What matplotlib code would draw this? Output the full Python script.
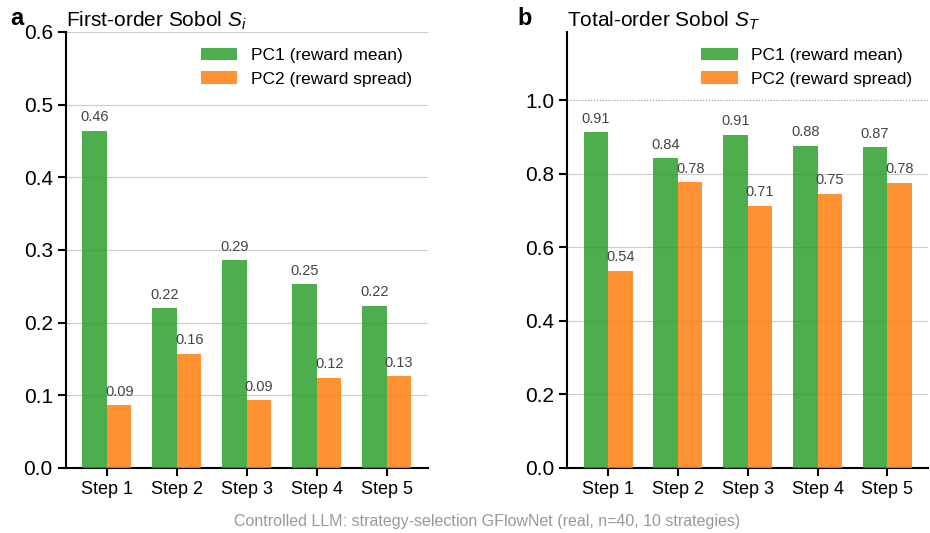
import numpy as np
import matplotlib
matplotlib.use('Agg')
import matplotlib.pyplot as plt

plt.rcParams['font.family'] = ['Liberation Sans', 'DejaVu Sans']
plt.rcParams['mathtext.fontset'] = 'custom'
plt.rcParams['mathtext.rm'] = 'Liberation Sans'
plt.rcParams['mathtext.it'] = 'Liberation Sans:italic'

steps = ['Step 1', 'Step 2', 'Step 3', 'Step 4', 'Step 5']
s1_pc1 = [0.464, 0.220, 0.286, 0.253, 0.223]
s1_pc2 = [0.086, 0.157, 0.093, 0.124, 0.126]
st_pc1 = [0.913, 0.842, 0.906, 0.875, 0.872]
st_pc2 = [0.536, 0.777, 0.712, 0.746, 0.775]

GREEN = '#2ca02c'
ORANGE = '#ff7f0e'


def draw(ax, pc1, pc2, title, ylim, yticks):
    x = np.arange(len(steps))
    w = 0.35
    ax.bar(x - w / 2, pc1, w, color=GREEN, alpha=0.85, label='PC1 (reward mean)', zorder=3)
    ax.bar(x + w / 2, pc2, w, color=ORANGE, alpha=0.85, label='PC2 (reward spread)', zorder=3)
    off = ylim[1] * 0.015
    # value labels above bars
    for xi, v in zip(x - w / 2, pc1):
        ax.text(xi, v + off, f'{v:.2f}', ha='center', va='bottom', fontsize=10.5, color='#444444')
    for xi, v in zip(x + w / 2, pc2):
        ax.text(xi, v + off, f'{v:.2f}', ha='center', va='bottom', fontsize=10.5, color='#444444')
    ax.set_xticks(x)
    ax.set_xticklabels(steps, fontsize=13)
    ax.set_ylim(*ylim)
    ax.set_yticks(yticks)
    ax.set_yticklabels([f'{t:.1f}' for t in yticks], fontsize=15)
    ax.yaxis.grid(True, color='#cccccc', linewidth=0.8, zorder=0)
    ax.set_axisbelow(True)
    for s in ['top', 'right']:
        ax.spines[s].set_visible(False)
    for s in ['left', 'bottom']:
        ax.spines[s].set_linewidth(1.5)
    ax.tick_params(axis='both', width=1.5, length=6)
    ax.set_title(title, loc='left', fontsize=15, pad=4)
    ax.legend(loc='upper right', frameon=False, fontsize=12.5, handlelength=2.1, handletextpad=0.8)


fig = plt.figure(figsize=(9.3, 5.33), dpi=100)
ax1 = fig.add_axes([0.071, 0.122, 0.389, 0.818])
ax2 = fig.add_axes([0.610, 0.122, 0.388, 0.818])

draw(ax1, s1_pc1, s1_pc2, 'First-order Sobol $S_i$', (0, 0.6),
     [0, 0.1, 0.2, 0.3, 0.4, 0.5, 0.6])
draw(ax2, st_pc1, st_pc2, 'Total-order Sobol $S_T$', (0, 1.185),
     [0, 0.2, 0.4, 0.6, 0.8, 1.0])
ax2.yaxis.grid(False)
for t in [0.2, 0.4, 0.6, 0.8]:
    ax2.axhline(t, color='#cccccc', linewidth=0.8, zorder=0)
ax2.axhline(1.0, color='#999999', linewidth=0.8, linestyle=':', zorder=1)

fig.text(0.011, 0.965, 'a', fontsize=17, fontweight='bold', va='center')
fig.text(0.556, 0.965, 'b', fontsize=17, fontweight='bold', va='center')
fig.text(0.524, 0.022, 'Controlled LLM: strategy-selection GFlowNet (real, n=40, 10 strategies)',
         ha='center', va='center', fontsize=11.5, color='#999999')

fig.savefig('out.png', dpi=100)
